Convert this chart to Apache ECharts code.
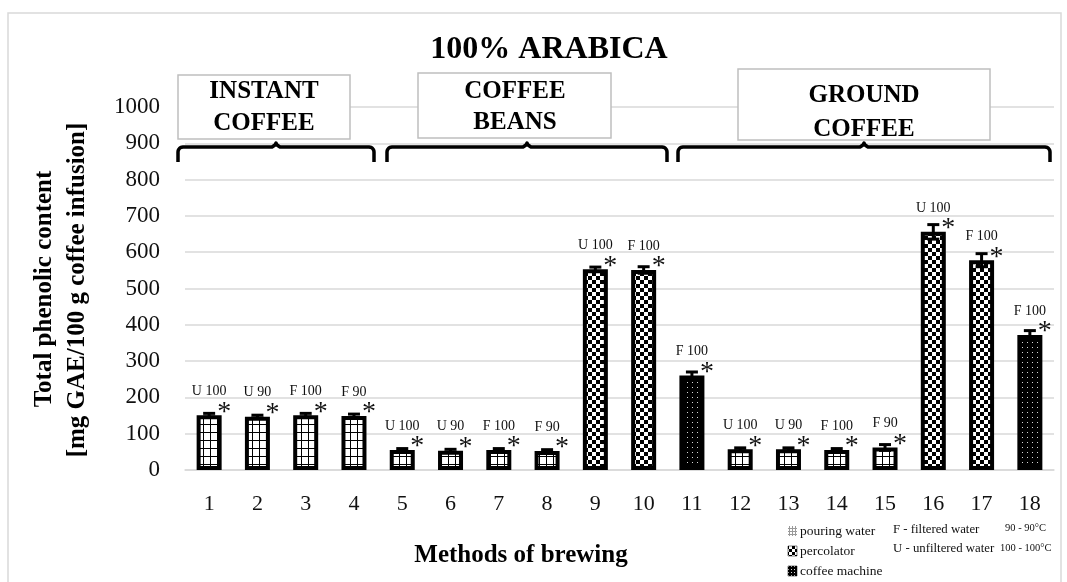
<!DOCTYPE html>
<html>
<head>
<meta charset="utf-8">
<script src="https://cdn.jsdelivr.net/npm/echarts@6/dist/echarts.min.js"></script>
<style>
  html, body { margin: 0; padding: 0; background: #fff; }
  #chart { width: 1067px; height: 582px; }
</style>
</head>
<body>
<div id="chart"></div>
<script>
// Brewing methods on the category axis
const methods = ['1', '2', '3', '4', '5', '6', '7', '8', '9', '10', '11', '12', '13', '14', '15', '16', '17', '18'];
// Total phenolic content, mg GAE / 100 g coffee infusion
const phenolic = [151, 147, 151, 149, 55, 53, 55, 52, 553, 551, 260, 57, 57, 55, 62, 656, 578, 372];
// Standard deviation drawn as error bars
const deviation = [5, 4, 5, 5, 4, 4, 4, 4, 6, 9, 10, 4, 4, 4, 8, 20, 18, 12];
// Water type + temperature above each bar
const waterTemp = ['U 100', 'U 90', 'F 100', 'F 90', 'U 100', 'U 90', 'F 100', 'F 90', 'U 100', 'F 100',
                   'F 100', 'U 100', 'U 90', 'F 100', 'F 90', 'U 100', 'F 100', 'F 100'];
// Brewing device of each method (selects the fill pattern)
const device = ['pouring', 'pouring', 'pouring', 'pouring', 'pouring', 'pouring', 'pouring', 'pouring',
                'percolator', 'percolator', 'machine', 'pouring', 'pouring', 'pouring', 'pouring',
                'percolator', 'percolator', 'machine'];
// Significance marks
const significance = ['*', '*', '*', '*', '*', '*', '*', '*', '*', '*', '*', '*', '*', '*', '*', '*', '*', '*'];
// Product groups spanned by the braces
const groupNames = ['INSTANT\nCOFFEE', 'COFFEE\nBEANS', 'GROUND\nCOFFEE'];
// Key texts
const deviceKey = [['pouring', 'pouring water'], ['percolator', 'percolator'], ['machine', 'coffee machine']];
const waterKey = ['F - filtered water', 'U - unfiltered water'];
const tempKey = ['90 - 90°C', '100 - 100°C'];

const SERIF = '"Liberation Serif", "Times New Roman", serif';

// Fill patterns for the bars
function makePattern(kind, small) {
  const c = document.createElement('canvas');
  const ctx = c.getContext('2d');
  if (kind === 'pouring') {
    const w = small ? 3 : 7, h = small ? 3 : 8;
    c.width = w; c.height = h;
    ctx.fillStyle = '#fff'; ctx.fillRect(0, 0, w, h);
    ctx.fillStyle = small ? '#9a9a9a' : '#000';
    ctx.fillRect(0, 0, 1, h); ctx.fillRect(0, 0, w, 1);
  } else if (kind === 'percolator') {
    const s = small ? 3 : 4;
    c.width = 2 * s; c.height = 2 * s;
    ctx.fillStyle = '#fff'; ctx.fillRect(0, 0, 2 * s, 2 * s);
    ctx.fillStyle = '#000';
    ctx.fillRect(0, 0, s, s); ctx.fillRect(s, s, s, s);
  } else {
    const s = small ? 3 : 5;
    c.width = s; c.height = s;
    ctx.fillStyle = '#000'; ctx.fillRect(0, 0, s, s);
    ctx.fillStyle = '#d8d8d8'; ctx.fillRect(2, 2, 1, 1);
  }
  return { image: c, repeat: 'repeat' };
}
const fills = {
  pouring: makePattern('pouring'),
  percolator: makePattern('percolator'),
  machine: makePattern('machine')
};

const chart = echarts.init(document.getElementById('chart'), null, { renderer: 'canvas' });

// Layout of the annotation boxes and braces
const boxes = [
  { x: 178, y: 75, w: 172, h: 64, cx: 264, lines: [92, 124] },
  { x: 418, y: 73, w: 193, h: 65, cx: 515, lines: [92, 123] },
  { x: 738, y: 69, w: 252, h: 71, cx: 864, lines: [96, 130] }
];
const braces = [[178, 374], [387, 667], [678, 1050]];

// Curly brace outline as a polyline: rounded outer corners and a small centre peak
function bracePoints(x1, x2, y) {
  const r = 5, cx = (x1 + x2) / 2, yb = y + 15, pts = [];
  pts.push([x1, yb]);
  for (let k = 0; k <= 6; k++) {
    const a = Math.PI - (k / 6) * Math.PI / 2;
    pts.push([x1 + r + r * Math.cos(a), y + r - r * Math.sin(a)]);
  }
  pts.push([cx - 4, y], [cx - 1, y - 2], [cx, y - 4], [cx + 1, y - 2], [cx + 4, y]);
  for (let k = 0; k <= 6; k++) {
    const a = Math.PI / 2 - (k / 6) * Math.PI / 2;
    pts.push([x2 - r + r * Math.cos(a), y + r - r * Math.sin(a)]);
  }
  pts.push([x2, yb]);
  return pts;
}

const graphics = [];
// outer frame
graphics.push({ type: 'rect', z: -10, silent: true, shape: { x: 8, y: 13, width: 1053, height: 620 },
  style: { fill: 'none', stroke: '#d9d9d9', lineWidth: 1.5 } });
// group boxes
groupNames.forEach((name, g) => {
  const b = boxes[g];
  graphics.push({ type: 'rect', z: 10, shape: { x: b.x, y: b.y, width: b.w, height: b.h },
    style: { fill: '#fff', stroke: '#bfbfbf', lineWidth: 1.5 } });
  name.split('\n').forEach((line, k) => {
    graphics.push({ type: 'text', z: 11, x: b.cx, y: b.lines[k],
      style: { text: line, fill: '#000', font: `bold 25px ${SERIF}`, textAlign: 'center', textVerticalAlign: 'middle' } });
  });
  const br = braces[g];
  graphics.push({ type: 'polyline', z: 9, shape: { points: bracePoints(br[0], br[1], 147) },
    style: { fill: 'none', stroke: '#000', lineWidth: 3.5, lineJoin: 'round' } });
});
// axis names
graphics.push({ type: 'text', x: 45, y: 289, rotation: Math.PI / 2,
  style: { text: 'Total phenolic content', fill: '#000', font: `bold 25px ${SERIF}`, textAlign: 'center', textVerticalAlign: 'middle' } });
graphics.push({ type: 'text', x: 78, y: 290, rotation: Math.PI / 2,
  style: { text: '[mg GAE/100 g coffee infusion]', fill: '#000', font: `bold 25px ${SERIF}`, textAlign: 'center', textVerticalAlign: 'middle' } });
graphics.push({ type: 'text', x: 521, y: 556,
  style: { text: 'Methods of brewing', fill: '#000', font: `bold 25px ${SERIF}`, textAlign: 'center', textVerticalAlign: 'middle' } });
// key
const keyRows = [531, 551, 571];
deviceKey.forEach(([kind, label], k) => {
  graphics.push({ type: 'rect', shape: { x: 788, y: keyRows[k] - 5, width: 9, height: 10 },
    style: { fill: makePattern(kind, true), stroke: kind === 'pouring' ? null : '#000', lineWidth: 0.5 } });
  graphics.push({ type: 'text', x: 800, y: keyRows[k],
    style: { text: label, fill: '#111', font: `13.5px ${SERIF}`, textAlign: 'left', textVerticalAlign: 'middle' } });
});
waterKey.forEach((t, k) => {
  graphics.push({ type: 'text', x: 893, y: [530, 549][k],
    style: { text: t, fill: '#111', font: `12.8px ${SERIF}`, textAlign: 'left', textVerticalAlign: 'middle' } });
});
tempKey.forEach((t, k) => {
  graphics.push({ type: 'text', x: [1005, 1000][k], y: [528, 548][k],
    style: { text: t, fill: '#111', font: `10.5px ${SERIF}`, textAlign: 'left', textVerticalAlign: 'middle' } });
});

const option = {
  backgroundColor: '#fff',
  animation: false,
  title: {
    text: '100% ARABICA',
    left: 544, top: 29, textAlign: 'center',
    textStyle: { fontFamily: SERIF, fontWeight: 'bold', fontSize: 32, color: '#000' }
  },
  grid: { left: 185, right: 13, top: 107, bottom: 112, containLabel: false },
  xAxis: {
    type: 'category',
    data: methods,
    axisLine: { show: true, lineStyle: { color: '#d9d9d9', width: 1.5 } },
    axisTick: { show: false },
    axisLabel: { fontFamily: SERIF, fontSize: 22, color: '#111', margin: 23 }
  },
  yAxis: {
    type: 'value',
    min: 0, max: 1000, interval: 100,
    axisLine: { show: false },
    axisTick: { show: false },
    splitLine: { lineStyle: { color: '#d9d9d9', width: 1.5 } },
    axisLabel: { fontFamily: SERIF, fontSize: 23, color: '#111', margin: 25, formatter: v => String(v) }
  },
  series: [
    {
      type: 'bar',
      barWidth: 25,
      data: phenolic.map((v, i) => ({ value: v, itemStyle: { color: fills[device[i]] } })),
      itemStyle: { borderColor: '#000', borderWidth: 4 },
      label: {
        show: true, position: 'top', distance: 17,
        formatter: p => waterTemp[p.dataIndex],
        fontFamily: SERIF, fontSize: 14, color: '#111'
      },
      z: 2
    },
    {
      type: 'custom',
      z: 5,
      data: phenolic.map((v, i) => [i, v, deviation[i]]),
      renderItem: (params, api) => {
        const i = api.value(0), v = api.value(1), e = api.value(2);
        const hi = api.coord([i, v + e]);
        const lo = api.coord([i, v - e]);
        const mid = api.coord([i, v]);
        const cap = 6;
        return {
          type: 'group',
          children: [
            { type: 'line', shape: { x1: hi[0], y1: hi[1], x2: lo[0], y2: lo[1] }, style: { stroke: '#000', lineWidth: 3 } },
            { type: 'line', shape: { x1: hi[0] - cap, y1: hi[1], x2: hi[0] + cap, y2: hi[1] }, style: { stroke: '#000', lineWidth: 3 } },
            { type: 'line', shape: { x1: lo[0] - cap, y1: lo[1], x2: lo[0] + cap, y2: lo[1] }, style: { stroke: '#000', lineWidth: 3 } },
            { type: 'text', x: mid[0] + 15, y: mid[1] - 3,
              style: { text: significance[i], fill: '#111', font: `28px ${SERIF}`, textAlign: 'center', textVerticalAlign: 'middle' } }
          ]
        };
      }
    }
  ],
  graphic: graphics
};

chart.setOption(option);
</script>
</body>
</html>
